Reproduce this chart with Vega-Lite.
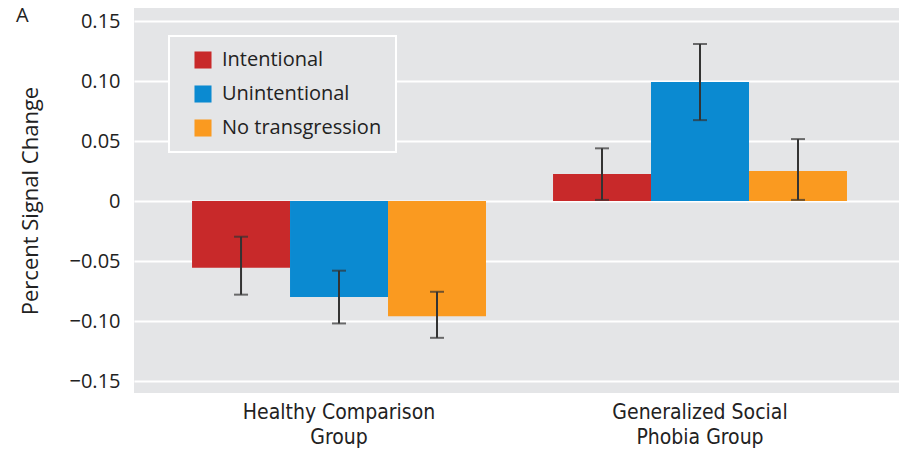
{
  "$schema": "https://vega.github.io/schema/vega-lite/v6.json",
  "width": 765,
  "height": 385,
  "autosize": "none",
  "padding": {"left": 134, "top": 8, "right": 0, "bottom": 58},
  "background": "white",
  "title": {"text": "A", "anchor": "start", "frame": "group", "orient": "top", "offset": 0, "dx": -118, "dy": 34, "baseline": "alphabetic", "fontSize": 20, "fontWeight": "normal", "font": "Open Sans", "color": "#222222"},
  "config": {
    "view": {"fill": "#e4e5e7", "stroke": null},
    "legend": {
      "orient": "none", "legendX": 35, "legendY": 28,
      "fillColor": "#e4e5e7", "strokeColor": "#ffffff", "strokeWidth": 2,
      "padding": 14, "symbolOffset": 10, "rowPadding": 14,
      "symbolType": "square", "symbolSize": 290, "symbolStrokeWidth": 0,
      "labelFont": "Open Sans", "labelFontSize": 20, "labelColor": "#222222", "labelOffset": 9,
      "title": null
    }
  },
  "data": {
    "values": [
      {"group": "Healthy Comparison|Group", "condition": "Intentional", "value": -0.0555, "lo": -0.078, "hi": -0.0297},
      {"group": "Healthy Comparison|Group", "condition": "Unintentional", "value": -0.080, "lo": -0.102, "hi": -0.058},
      {"group": "Healthy Comparison|Group", "condition": "No transgression", "value": -0.096, "lo": -0.114, "hi": -0.0756},
      {"group": "Generalized Social|Phobia Group", "condition": "Intentional", "value": 0.0225, "lo": 0.001, "hi": 0.044},
      {"group": "Generalized Social|Phobia Group", "condition": "Unintentional", "value": 0.0994, "lo": 0.0675, "hi": 0.131},
      {"group": "Generalized Social|Phobia Group", "condition": "No transgression", "value": 0.025, "lo": 0.001, "hi": 0.0517}
    ]
  },
  "encoding": {
    "x": {
      "field": "group", "type": "nominal",
      "sort": ["Healthy Comparison|Group", "Generalized Social|Phobia Group"],
      "scale": {"paddingInner": 0, "paddingOuter": 0.0596, "align": 0.57},
      "axis": {
        "title": null, "domain": false, "ticks": false, "grid": false, "labelAngle": 0,
        "labelExpr": "split(datum.label, '|')", "labelLimit": 400,
        "labelFont": "DejaVu Sans Condensed, Open Sans", "labelFontSize": 21, "labelLineHeight": 25,
        "labelColor": "#222222", "labelPadding": 8
      }
    },
    "xOffset": {
      "field": "condition", "type": "nominal",
      "sort": ["Intentional", "Unintentional", "No transgression"],
      "scale": {"paddingInner": 0, "paddingOuter": 0.342}
    }
  },
  "layer": [
    {
      "mark": {"type": "bar"},
      "encoding": {
        "y": {
          "field": "value", "type": "quantitative",
          "scale": {"domain": [-0.16, 0.161], "nice": false, "zero": false},
          "axis": {
            "title": "Percent Signal Change", "titleFont": "Open Sans", "titleFontSize": 22, "titleFontWeight": "normal", "titleColor": "#222222", "titlePadding": 27,
            "values": [-0.15, -0.1, -0.05, 0, 0.05, 0.1, 0.15],
            "labelExpr": "datum.value == 0 ? '0' : replace(format(datum.value, '.2f'), '-', '\u2212')",
            "labelFont": "Open Sans", "labelFontSize": 20, "labelColor": "#222222", "labelPadding": 14,
            "domain": false, "ticks": false,
            "grid": true, "gridColor": "#ffffff", "gridWidth": 2
          }
        },
        "color": {
          "field": "condition", "type": "nominal",
          "scale": {"domain": ["Intentional", "Unintentional", "No transgression"], "range": ["#c8292a", "#0b8ad1", "#fa9a20"]},
          "legend": {"title": null}
        }
      }
    },
    {
      "mark": {"type": "rule", "color": "#333333", "strokeWidth": 2},
      "encoding": {
        "y": {"field": "lo", "type": "quantitative"},
        "y2": {"field": "hi"}
      }
    },
    {
      "mark": {"type": "tick", "color": "#333333", "thickness": 2, "size": 14},
      "encoding": {"y": {"field": "lo", "type": "quantitative"}}
    },
    {
      "mark": {"type": "tick", "color": "#333333", "thickness": 2, "size": 14},
      "encoding": {"y": {"field": "hi", "type": "quantitative"}}
    },
    {
      "mark": {"type": "rule", "color": "#1a1a1a", "strokeWidth": 2.5},
      "encoding": {"y": {"datum": 0}, "x": {"value": 0}, "x2": {"width": 1}, "xOffset": null}
    }
  ]
}
